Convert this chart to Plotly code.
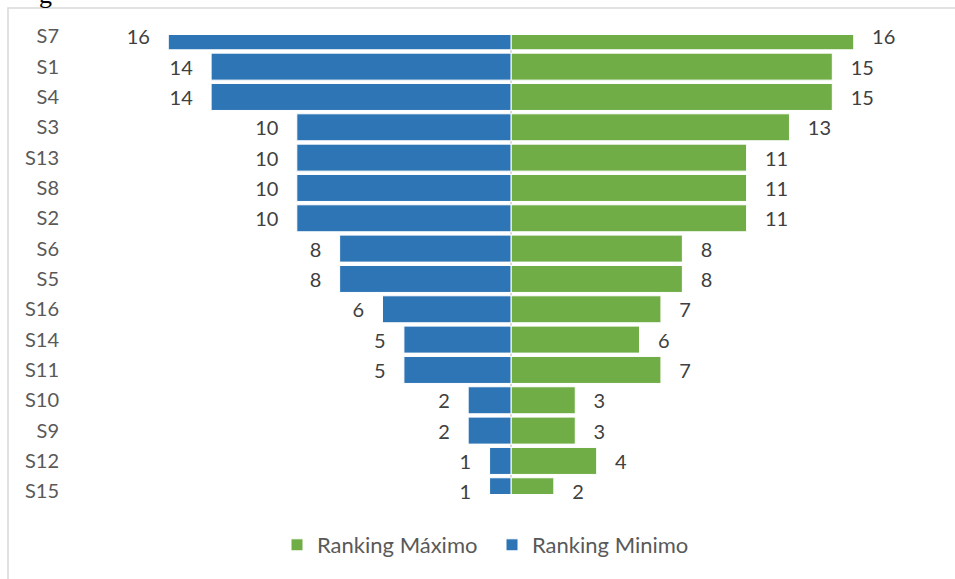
import plotly.graph_objects as go

categories = ["S7", "S1", "S4", "S3", "S13", "S8", "S2", "S6", "S5", "S16",
              "S14", "S11", "S10", "S9", "S12", "S15"]
ranking_minimo = [16, 14, 14, 10, 10, 10, 10, 8, 8, 6, 5, 5, 2, 2, 1, 1]
ranking_maximo = [16, 15, 15, 13, 11, 11, 11, 8, 8, 7, 6, 7, 3, 3, 4, 2]

BLUE = "#2e75b6"
GREEN = "#70ad47"
FONT = "Lato"
NB = "\u00a0"

W, H = 955, 579
L, R, T, B = 100, 33, 35, 85
pw, ph = W - L - R, H - T - B

def px_x(p):
    return (p - L) / pw

def px_y(p):
    return (H - B - p) / ph

fig = go.Figure()
fig.add_trace(go.Bar(
    name="Ranking Máximo", y=categories, x=ranking_maximo, orientation="h",
    marker=dict(color=GREEN, line=dict(color="white", width=1)),
    text=[NB * 3 + str(v) for v in ranking_maximo], textposition="outside",
    textfont=dict(family=FONT, size=20, color="#404040"), cliponaxis=False,
))
fig.add_trace(go.Bar(
    name="Ranking Minimo", y=categories, x=[-v for v in ranking_minimo], orientation="h",
    marker=dict(color=BLUE, line=dict(color="white", width=1)),
    text=[str(v) + NB * 3 for v in ranking_minimo], textposition="outside",
    textfont=dict(family=FONT, size=20, color="#404040"), cliponaxis=False,
))

half = (pw / 2) / 21.42
fig.update_layout(
    width=W, height=H,
    margin=dict(l=L, r=R, t=T, b=B),
    paper_bgcolor="white", plot_bgcolor="white",
    barmode="relative", bargap=0.11,
    font=dict(family=FONT, size=20, color="#595959"),
    xaxis=dict(range=[-half, half], showgrid=False, showticklabels=False,
               zeroline=True, zerolinecolor="#d9d9d9", zerolinewidth=2,
               layer="above traces", fixedrange=True),
    yaxis=dict(type="category", categoryorder="array", categoryarray=categories,
               range=[15.09, -0.043], showgrid=False, zeroline=False,
               ticks="", ticklabelstandoff=40,
               tickfont=dict(family=FONT, size=20, color="#595959")),
    legend=dict(orientation="h", x=px_x(492), xanchor="center",
                y=px_y(545), yanchor="middle",
                font=dict(family=FONT, size=22, color="#595959"),
                traceorder="normal", itemwidth=30,
                entrywidth=170, entrywidthmode="pixels"),
    showlegend=True,
    shapes=[dict(type="rect", xref="paper", yref="paper",
                 x0=px_x(8), x1=px_x(1000), y0=px_y(620), y1=px_y(8),
                 line=dict(color="#d9d9d9", width=1.5), fillcolor="rgba(0,0,0,0)",
                 layer="below")],
    annotations=[dict(text="g", xref="paper", yref="paper", x=px_x(45), y=px_y(-5),
                      xanchor="center", yanchor="middle", showarrow=False,
                      font=dict(family="Liberation Serif", size=26, color="black"))],
)

fig.write_html("out.html")
